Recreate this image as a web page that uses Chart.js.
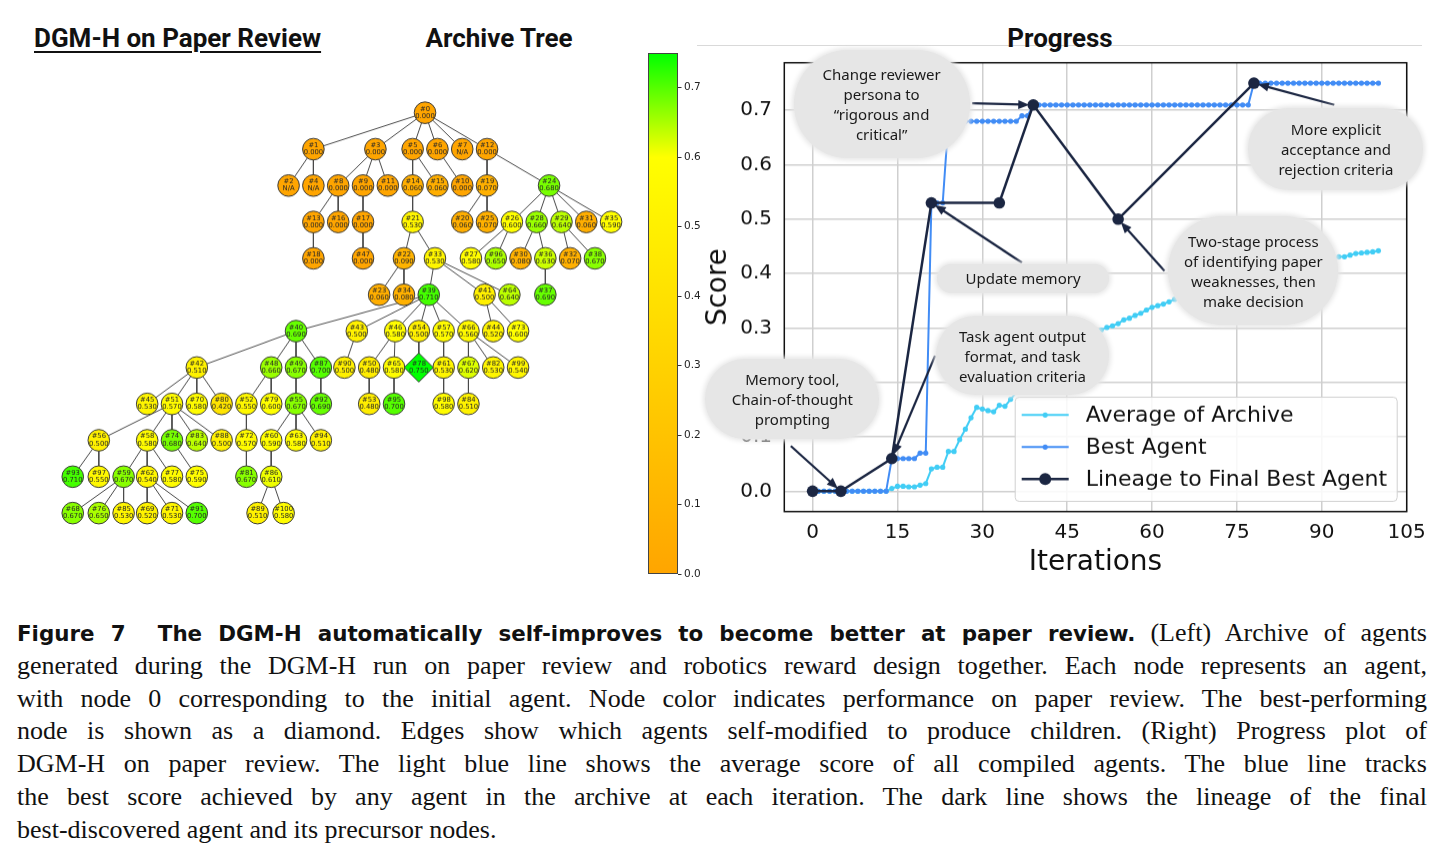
<!DOCTYPE html>
<html><head><meta charset="utf-8">
<script src="https://cdn.jsdelivr.net/npm/chart.js@4.4.1/dist/chart.umd.min.js"></script>
<style>
html,body{margin:0;padding:0;background:#fff;}
#page{position:relative;width:1447px;height:860px;overflow:hidden;background:#fff;font-family:"DejaVu Sans",sans-serif;}
.wrap{position:absolute;}
.title{position:absolute;top:25px;font-family:Roboto,"DejaVu Sans",sans-serif;font-weight:700;font-size:26px;color:#111;white-space:nowrap;line-height:26px;}
.bubble{position:absolute;background:#e6e6e6;box-shadow:0 0 5px 2px #e6e6e6;display:flex;align-items:center;justify-content:center;text-align:center;font-family:"Noto Sans",sans-serif;font-size:15px;line-height:20px;color:#1a1a1a;z-index:5;}
.cap{position:absolute;left:17px;width:1410px;font-family:"Liberation Serif",serif;font-size:26px;line-height:32.8px;height:32.8px;color:#111;text-align:justify;text-align-last:justify;white-space:normal;}
.cap b{font-family:"DejaVu Sans",sans-serif;font-weight:700;font-size:21.4px;}
</style></head>
<body><div id="page">
<div class="title" style="left:34px;text-decoration:underline;text-decoration-thickness:2px;text-underline-offset:4px;">DGM-H on Paper Review</div>
<div class="title" style="left:399px;width:200px;text-align:center;">Archive Tree</div>
<div style="position:absolute;left:697px;top:45px;width:725px;height:1px;background:#d9d9d9;"></div>
<div class="title" style="left:960px;width:200px;text-align:center;">Progress</div>

<div class="wrap" id="treeWrap" style="left:24.7px;top:78.85px;width:626.4px;height:466.8px;"><canvas id="tree"></canvas></div>
<div class="wrap" id="cbWrap" style="left:648px;top:43px;width:62px;height:541px;"><canvas id="cbar"></canvas></div>
<div class="wrap" id="progWrap" style="left:700px;top:50px;width:740px;height:535.7px;"><canvas id="prog"></canvas></div>
<div style="position:absolute;left:1424px;top:512px;width:23px;height:40px;background:#fff;"></div>
<div id="notes"></div>

<div class="cap" style="top:617px;"><b>Figure 7&nbsp;&nbsp;The DGM-H automatically self-improves to become better at paper review.</b> (Left) Archive of agents</div>
<div class="cap" style="top:649.8px;">generated during the DGM-H run on paper review and robotics reward design together. Each node represents an agent,</div>
<div class="cap" style="top:682.6px;">with node 0 corresponding to the initial agent. Node color indicates performance on paper review. The best-performing</div>
<div class="cap" style="top:715.4px;">node is shown as a diamond. Edges show which agents self-modified to produce children. (Right) Progress plot of</div>
<div class="cap" style="top:748.2px;">DGM-H on paper review. The light blue line shows the average score of all compiled agents. The blue line tracks</div>
<div class="cap" style="top:781px;">the best score achieved by any agent in the archive at each iteration. The dark line shows the lineage of the final</div>
<div class="cap" style="top:813.8px;text-align-last:left;">best-discovered agent and its precursor nodes.</div>
</div>
<script>
// ---------------- Archive tree data ----------------
const nodeIds = [0,1,2,3,4,5,6,7,8,9,10,11,12,13,14,15,16,17,18,19,20,21,22,23,24,25,26,27,28,29,30,31,32,33,34,35,36,37,38,39,40,41,42,43,44,45,46,47,48,49,50,51,52,53,54,55,56,57,58,59,60,61,62,63,64,65,66,67,68,69,70,71,72,73,74,75,76,77,78,79,80,81,82,83,84,85,86,87,88,89,90,91,92,93,94,95,96,97,98,99,100];
const nodeParents = [-1,0,1,0,1,0,0,0,3,3,6,3,0,8,5,5,8,9,13,12,19,14,21,22,12,19,24,26,24,24,28,24,29,21,22,24,28,36,29,33,39,33,40,39,41,42,39,17,40,40,46,42,48,50,39,49,51,39,51,58,55,57,58,55,33,46,39,66,59,62,42,62,52,41,51,74,59,58,54,48,42,72,66,51,67,59,60,40,51,86,43,62,87,56,55,65,26,56,61,66,86];
const nodeScores = [0,0,null,0,null,0,0,null,0,0, 0,0,0,0,0.06,0.06,0,0,0,0.07, 0.06,0.53,0.09,0.06,0.68,0.07,0.60,0.58,0.66,0.64, 0.08,0.06,0.07,0.53,0.08,0.59,0.63,0.69,0.67,0.71, 0.69,0.50,0.51,0.50,0.52,0.53,0.58,0.00,0.66,0.67, 0.48,0.57,0.55,0.48,0.50,0.67,0.50,0.57,0.58,0.67, 0.59,0.53,0.54,0.58,0.64,0.58,0.56,0.62,0.67,0.52, 0.58,0.53,0.57,0.60,0.68,0.59,0.65,0.58,0.75,0.60, 0.42,0.67,0.53,0.64,0.51,0.53,0.61,0.70,0.50,0.51, 0.50,0.70,0.69,0.71,0.51,0.70,0.65,0.55,0.58,0.54, 0.58];
const nodeDepths = [0,1,2,1,2,1,1,1,2,2,2,2,1,3,2,2,3,3,4,2,3,3,4,5,2,3,3,4,3,3,4,3,4,4,5,3,4,5,4,5,6,5,7,6,6,8,6,4,7,7,7,8,8,8,6,8,9,6,9,10,9,7,10,9,5,7,6,7,11,11,8,11,9,6,9,10,11,10,7,8,8,10,7,9,8,11,10,7,9,11,7,11,8,10,9,8,4,10,8,7,11];
const nodeCols = [5.5,1,0,3.5,1,5,6,7,2,3,7,4,8,1,5,6,2,3,1,8,7,5,4.65,3.65,10.5,8,9,7.35,10,11,9.35,12,11.35,5.9,4.65,13,10.35,10.35,12.35,5.65,0.3,7.9,-3.7,2.75,8.25,-5.7,4.3,3,-0.7,0.3,3.25,-4.7,-1.7,3.25,5.25,0.3,-7.65,6.25,-5.7,-6.65,-0.7,6.25,-5.7,0.3,8.9,4.25,7.25,7.25,-8.7,-5.7,-3.7,-4.7,-1.7,9.25,-4.7,-3.7,-7.65,-4.7,5.25,-0.7,-2.7,-1.7,8.25,-3.7,7.25,-6.65,-0.7,1.3,-2.7,-1.25,2.25,-3.7,1.3,-8.7,1.3,4.25,8.35,-7.65,6.25,9.25,-0.2];
const bestNodeId = 78;
const colorbarTicks = [0.0,0.1,0.2,0.3,0.4,0.5,0.6,0.7];
const colorbarMax = 0.75;

// ---------------- Progress data ----------------
const iterations = [0,1,2,3,4,5,6,7,8,9,10,11,12,13,14,15,16,17,18,19,20,21,22,23,24,25,26,27,28,29,30,31,32,33,34,35,36,37,38,39,40,41,42,43,44,45,46,47,48,49,50,51,52,53,54,55,56,57,58,59,60,61,62,63,64,65,66,67,68,69,70,71,72,73,74,75,76,77,78,79,80,81,82,83,84,85,86,87,88,89,90,91,92,93,94,95,96,97,98,99,100];
const avgArchive = [0,0,0,0,0,0,0,0,0,0,0,0,0,0,0.005,0.009,0.009,0.008,0.008,0.011,0.014,0.041,0.044,0.044,0.073,0.073,0.095,0.114,0.135,0.154,0.151,0.148,0.146,0.158,0.156,0.169,0.182,0.197,0.210,0.224,0.236,0.243,0.249,0.255,0.262,0.268,0.275,0.269,0.277,0.286,0.290,0.296,0.301,0.304,0.308,0.315,0.318,0.323,0.327,0.333,0.338,0.341,0.344,0.348,0.353,0.357,0.360,0.364,0.368,0.371,0.374,0.376,0.379,0.382,0.386,0.389,0.392,0.395,0.399,0.402,0.402,0.406,0.407,0.410,0.411,0.413,0.415,0.418,0.419,0.420,0.421,0.425,0.427,0.431,0.431,0.434,0.437,0.438,0.439,0.440,0.442];
const bestAgent = [0,0,0,0,0,0,0,0,0,0,0,0,0,0,0.06,0.06,0.06,0.06,0.06,0.07,0.07,0.53,0.53,0.53,0.68,0.68,0.68,0.68,0.68,0.68,0.68,0.68,0.68,0.68,0.68,0.68,0.68,0.69,0.69,0.71,0.71,0.71,0.71,0.71,0.71,0.71,0.71,0.71,0.71,0.71,0.71,0.71,0.71,0.71,0.71,0.71,0.71,0.71,0.71,0.71,0.71,0.71,0.71,0.71,0.71,0.71,0.71,0.71,0.71,0.71,0.71,0.71,0.71,0.71,0.71,0.71,0.71,0.71,0.75,0.75,0.75,0.75,0.75,0.75,0.75,0.75,0.75,0.75,0.75,0.75,0.75,0.75,0.75,0.75,0.75,0.75,0.75,0.75,0.75,0.75,0.75];
const lineageIter = [0,5,14,21,33,39,54,78];
const lineageScore = [0,0,0.06,0.53,0.53,0.71,0.50,0.75];
const xTicks = [0,15,30,45,60,75,90,105];
const yTicks = [0.0,0.1,0.2,0.3,0.4,0.5,0.6,0.7];
const seriesNames = ['Average of Archive','Best Agent','Lineage to Final Best Agent'];

// annotation texts, pointing at lineage points (index into lineage arrays)
const noteTexts = [
  ['Change reviewer','persona to','\u201crigorous and','critical\u201d'],
  ['Update memory'],
  ['Task agent output','format, and task','evaluation criteria'],
  ['Memory tool,','Chain-of-thought','prompting'],
  ['Two-stage process','of identifying paper','weaknesses, then','make decision'],
  ['More explicit','acceptance and','rejection criteria']
];
const noteTargets = [5,3,2,1,6,7];
// layout of the annotation bubbles (data coords of bubble centre / arrow tail, size in px)
const noteLayout = [
  {c:[12.2,0.711], t:[28.2,0.713], w:176, h:108},
  {c:[37.2,0.391], t:[37.0,0.420], w:172, h:29},
  {c:[37.1,0.248], t:[21.65,0.249], w:173, h:79},
  {c:[-3.58,0.169], t:[-3.85,0.083], w:174, h:80},
  {c:[77.9,0.404], t:[62.2,0.405], w:170, h:109},
  {c:[92.5,0.628], t:[92.2,0.710], w:175, h:82}
];

const COL_AVG = '#41cdf5', COL_BEST = '#418cf5', COL_LIN = '#1b2642';

function scoreColor(v){
  let t = (v==null) ? 0 : Math.max(0, Math.min(colorbarMax, v));
  let r, g;
  if (t <= 0.6) { r = 255; g = 165 + 90*(t/0.6); }
  else { const u = (t-0.6)/0.15; r = 255*(1-u); g = 255; }
  return 'rgb(' + Math.round(r) + ',' + Math.round(g) + ',0)';
}

// ---------------- Tree chart ----------------
const edgeData = [];
nodeIds.forEach((id, i) => {
  const p = nodeParents[i];
  if (p < 0) return;
  const pi = nodeIds.indexOf(p);
  edgeData.push({x:nodeCols[pi], y:nodeDepths[pi]}, {x:nodeCols[i], y:nodeDepths[i]}, {x:null, y:null});
});
const nodeData = nodeIds.map((id,i)=>({x:nodeCols[i], y:nodeDepths[i]}));

const treeLabels = {
  id:'treeLabels',
  afterDatasetsDraw(chart){
    const meta = chart.getDatasetMeta(1);
    const ctx = chart.ctx;
    ctx.save();
    ctx.fillStyle = '#262626';
    ctx.font = '6.8px "DejaVu Sans"';
    ctx.textAlign = 'center'; ctx.textBaseline = 'middle';
    meta.data.forEach((pt, i) => {
      ctx.fillText('#' + nodeIds[i], pt.x, pt.y - 3.8);
      ctx.fillText(nodeScores[i] == null ? 'N/A' : nodeScores[i].toFixed(3), pt.x, pt.y + 3.4);
    });
    ctx.restore();
  }
};

new Chart(document.getElementById('tree'), {
  type:'scatter',
  data:{datasets:[
    {type:'line', data:edgeData, borderColor:'#4a4a4a', borderWidth:1, pointRadius:0, spanGaps:false, fill:false, order:2, clip:false},
    {type:'scatter', data:nodeData,
      backgroundColor: nodeScores.map(s=>scoreColor(s)),
      borderColor:'#3a3a3a', borderWidth:1,
      pointStyle: nodeIds.map(id => id===bestNodeId ? 'rectRot' : 'circle'),
      pointRadius: nodeIds.map(id => id===bestNodeId ? 14.5 : 10.8),
      order:1, clip:false}
  ]},
  options:{animation:false, responsive:true, maintainAspectRatio:false, events:[],
    layout:{padding:0},
    plugins:{legend:{display:false}, tooltip:{enabled:false}},
    scales:{x:{type:'linear', min:-10, max:14, display:false}, y:{type:'linear', min:-0.5, max:11.5, reverse:true, display:false}}
  },
  plugins:[treeLabels]
});

// ---------------- Colorbar ----------------
const cbFrame = {id:'cbFrame', afterDraw(chart){const a=chart.chartArea, ctx=chart.ctx; ctx.save(); ctx.strokeStyle='#444'; ctx.lineWidth=1; ctx.strokeRect(a.left+0.5,a.top+0.5,a.right-a.left-1,a.bottom-a.top-1); ctx.restore();}};
new Chart(document.getElementById('cbar'), {
  type:'bar',
  data:{labels:[''], datasets:[{data:[colorbarMax], barPercentage:1, categoryPercentage:1, borderWidth:0,
    backgroundColor:(c)=>{const a=c.chart.chartArea; if(!a) return '#fa0'; const g=c.chart.ctx.createLinearGradient(0,a.bottom,0,a.top);
      g.addColorStop(0, scoreColor(0)); g.addColorStop(0.6/colorbarMax, scoreColor(0.6)); g.addColorStop(1, scoreColor(colorbarMax)); return g;}}]},
  options:{animation:false, responsive:true, maintainAspectRatio:false, events:[],
    layout:{padding:{top:10,bottom:10,left:0,right:0}},
    plugins:{legend:{display:false}, tooltip:{enabled:false}},
    scales:{
      x:{display:false},
      y:{position:'right', min:0, max:colorbarMax,
        afterFit(s){s.width=32;},
        afterBuildTicks(s){s.ticks=colorbarTicks.map(v=>({value:v}));},
        ticks:{font:{family:'DejaVu Sans', size:10.5}, color:'#222', padding:2.5, callback:v=>Number(v).toFixed(1)},
        grid:{drawOnChartArea:false, drawTicks:true, tickLength:3.5, color:'#333'},
        border:{display:false}}
    }
  },
  plugins:[cbFrame]
});

// ---------------- Progress chart ----------------
function drawArrow(ctx, x1, y1, x2, y2){
  const ang = Math.atan2(y2-y1, x2-x1), L = 11, W = 4.5;
  const c = Math.cos(ang), s = Math.sin(ang);
  ctx.beginPath(); ctx.moveTo(x1,y1); ctx.lineTo(x2 - c*L*0.7, y2 - s*L*0.7); ctx.stroke();
  ctx.beginPath(); ctx.moveTo(x2,y2);
  ctx.lineTo(x2 - L*c + W*s, y2 - L*s - W*c);
  ctx.lineTo(x2 - L*c - W*s, y2 - L*s + W*c);
  ctx.closePath(); ctx.fill();
}
const progDecor = {
  id:'progDecor',
  afterDraw(chart){
    const ctx = chart.ctx, a = chart.chartArea, xs = chart.scales.x, ys = chart.scales.y;
    ctx.save();
    ctx.strokeStyle = '#111'; ctx.lineWidth = 1.5;
    ctx.strokeRect(a.left, a.top, a.right-a.left, a.bottom-a.top);
    ctx.strokeStyle = COL_LIN; ctx.fillStyle = COL_LIN; ctx.lineWidth = 2.2;
    noteLayout.forEach((n, k) => {
      const li = noteTargets[k];
      const tx = xs.getPixelForValue(lineageIter[li]), ty = ys.getPixelForValue(lineageScore[li]);
      const sx = xs.getPixelForValue(n.t[0]), sy = ys.getPixelForValue(n.t[1]);
      const d = Math.hypot(tx-sx, ty-sy), sh = 4;
      drawArrow(ctx, sx, sy, tx - (tx-sx)/d*sh, ty - (ty-sy)/d*sh);
    });
    const bw = 382, bh = 104, bx = a.right - 10 - bw, by = a.bottom - 10.7 - bh;
    ctx.fillStyle = 'rgba(255,255,255,0.85)'; ctx.strokeStyle = '#d0d0d0'; ctx.lineWidth = 1;
    ctx.beginPath(); ctx.roundRect(bx+0.5, by+0.5, bw, bh, 4); ctx.fill(); ctx.stroke();
    const cols = [COL_AVG, COL_BEST, COL_LIN], widths = [2, 2, 2.5], rads = [2.6, 2.6, 6];
    ctx.font = '22px "DejaVu Sans"'; ctx.textBaseline = 'middle'; ctx.textAlign = 'left';
    seriesNames.forEach((nm, i) => {
      const yy = by + 18.3 + i*32;
      ctx.strokeStyle = cols[i]; ctx.lineWidth = widths[i];
      ctx.beginPath(); ctx.moveTo(bx+7, yy); ctx.lineTo(bx+54, yy); ctx.stroke();
      ctx.fillStyle = cols[i]; ctx.beginPath(); ctx.arc(bx+30.5, yy, rads[i], 0, Math.PI*2); ctx.fill();
      ctx.fillStyle = '#111'; ctx.fillText(nm, bx+71, yy+1);
    });
    ctx.restore();
  }
};

const gridOpt = {color:'#cfcfcf', lineWidth:1.5, drawTicks:false};
const prog = new Chart(document.getElementById('prog'), {
  type:'line',
  data:{datasets:[
    {label:seriesNames[0], data:iterations.map((x,i)=>({x:x, y:avgArchive[i]})), borderColor:COL_AVG, backgroundColor:COL_AVG, borderWidth:2, pointRadius:2.6, pointBorderWidth:0, order:3},
    {label:seriesNames[1], data:iterations.map((x,i)=>({x:x, y:bestAgent[i]})), borderColor:COL_BEST, backgroundColor:COL_BEST, borderWidth:2, pointRadius:2.6, pointBorderWidth:0, order:2},
    {label:seriesNames[2], data:lineageIter.map((x,i)=>({x:x, y:lineageScore[i]})), borderColor:COL_LIN, backgroundColor:COL_LIN, borderWidth:2.5, pointRadius:5.8, pointBorderWidth:0, order:1}
  ]},
  options:{animation:false, responsive:true, maintainAspectRatio:false, events:[],
    layout:{padding:{top:12.7, right:33.3, left:0, bottom:0}},
    plugins:{legend:{display:false}, tooltip:{enabled:false}},
    scales:{
      x:{type:'linear', min:-5, max:105,
        afterBuildTicks(s){s.ticks=xTicks.map(v=>({value:v}));},
        afterFit(s){s.height=75; s.paddingLeft=0; s.paddingRight=0;},
        ticks:{font:{family:'DejaVu Sans', size:20}, color:'#111', padding:8.6, maxRotation:0, autoSkip:false, callback:v=>String(v)},
        grid:gridOpt, border:{display:false},
        title:{display:true, text:'Iterations', color:'#111', font:{family:'DejaVu Sans', size:28, lineHeight:1}, padding:{top:0,bottom:9.7}}},
      y:{type:'linear', min:-0.0375, max:0.7875,
        afterBuildTicks(s){s.ticks=yTicks.map(v=>({value:v}));},
        afterFit(s){s.width=84.3; s.paddingTop=0; s.paddingBottom=0;},
        ticks:{font:{family:'DejaVu Sans', size:20}, color:'#111', padding:12.3, autoSkip:false, callback:v=>Number(v).toFixed(1)},
        grid:gridOpt, border:{display:false},
        title:{display:true, text:'Score', color:'#111', font:{family:'DejaVu Sans', size:27.5, lineHeight:1}, padding:{top:5,bottom:0}}}
    }
  },
  plugins:[progDecor]
});

// annotation bubbles (HTML text), placed through the chart's scales
(function placeNotes(){
  const holder = document.getElementById('notes');
  const ox = 700, oy = 50;
  const xs = prog.scales.x, ys = prog.scales.y;
  noteLayout.forEach((n, k) => {
    const d = document.createElement('div');
    d.className = 'bubble';
    const cx = ox + xs.getPixelForValue(n.c[0]), cy = oy + ys.getPixelForValue(n.c[1]);
    d.style.left = (cx - n.w/2) + 'px'; d.style.top = (cy - n.h/2) + 'px';
    d.style.width = n.w + 'px'; d.style.height = n.h + 'px';
    d.style.borderRadius = (n.h/2) + 'px';
    d.innerHTML = '<div>' + noteTexts[k].join('<br>') + '</div>';
    holder.appendChild(d);
  });
})();
</script>
</body></html>
